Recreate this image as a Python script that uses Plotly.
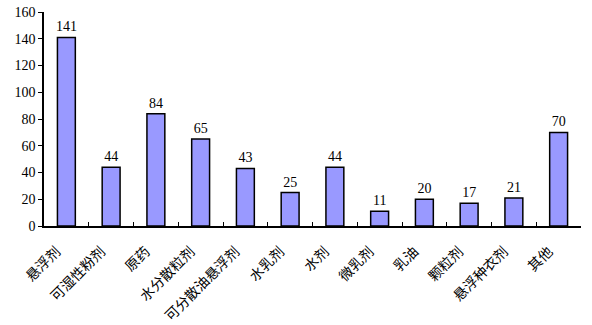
import plotly.graph_objects as go

categories = ["悬浮剂", "可湿性粉剂", "原药", "水分散粒剂", "可分散油悬浮剂", "水乳剂",
              "水剂", "微乳剂", "乳油", "颗粒剂", "悬浮种衣剂", "其他"]
values = [141, 44, 84, 65, 43, 25, 44, 11, 20, 17, 21, 70]
y_ticks = [0, 20, 40, 60, 80, 100, 120, 140, 160]

font_family = "Liberation Serif, Noto Sans CJK SC, serif"

fig = go.Figure(go.Bar(
    x=categories, y=values,
    text=[str(v) for v in values], textposition="outside",
    textfont=dict(family=font_family, size=14, color="#000000"),
    outsidetextfont=dict(family=font_family, size=14, color="#000000"),
    constraintext="none",
    marker=dict(color="#9999FF", line=dict(color="#000000", width=1.5)),
    cliponaxis=False,
))

fig.update_layout(
    width=592, height=325,
    margin=dict(l=44, r=11, t=12, b=99),
    plot_bgcolor="white", paper_bgcolor="white",
    bargap=0.6, showlegend=False,
    font=dict(family=font_family, size=12, color="#000000"),
)
fig.update_xaxes(
    type="category", tickangle=-45, tickson="boundaries",
    ticks="inside", ticklen=4, tickcolor="black",
    showline=True, linecolor="black", linewidth=1.5,
    showgrid=False, tickfont=dict(family="Noto Sans CJK SC", size=14, color="#000000"),
    ticklabelstandoff=10, ticklabelshift=-10, automargin=False,
)
fig.update_yaxes(
    range=[0, 160], tickvals=y_ticks, ticks="outside", ticklen=4,
    tickcolor="black", showline=True, linecolor="black", linewidth=1.5,
    showgrid=False, zeroline=False, automargin=False,
    tickfont=dict(family=font_family, size=14, color="#000000"),
)

fig.write_html("out.html")
